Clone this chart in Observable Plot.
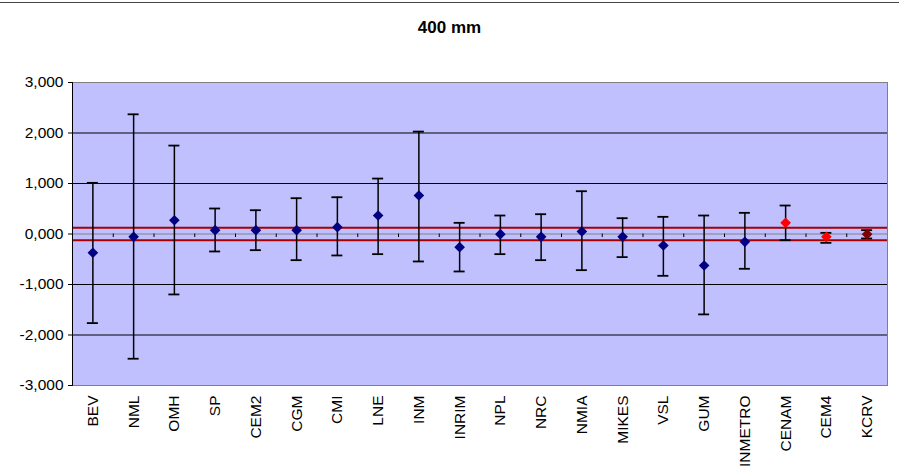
<!DOCTYPE html>
<html><head><meta charset="utf-8">
<script src="https://cdn.jsdelivr.net/npm/d3@7"></script>
<script src="https://cdn.jsdelivr.net/npm/@observablehq/plot@0.6"></script>
<style>
body{margin:0;background:#fff;}
#wrap{position:relative;width:899px;height:475px;font-family:Arial,"Liberation Sans",sans-serif;}
#title{position:absolute;top:18px;left:0;width:899px;text-align:center;font-weight:bold;font-size:17px;line-height:20px;color:#000;}
#topline{position:absolute;top:2px;left:0;width:899px;height:0;border-top:1.5px solid #444;}
#chart{position:absolute;top:0;left:0;}
</style></head><body>
<div id="wrap"><div id="chart"></div><div id="topline"></div><div id="title">400 mm</div></div>
<script>
const labs = ["BEV","NML","OMH","SP","CEM2","CGM","CMI","LNE","INM","INRIM","NPL","NRC","NMIA","MIKES","VSL","GUM","INMETRO","CENAM","CEM4","KCRV"];
const values = [-0.372,-0.056,0.273,0.076,0.076,0.076,0.135,0.366,0.762,-0.260,-0.003,-0.056,0.050,-0.056,-0.227,-0.623,-0.155,0.221,-0.056,-0.003];
const upper  = [1.013,2.370,1.751,0.505,0.471,0.709,0.728,1.098,2.028,0.221,0.366,0.392,0.847,0.313,0.340,0.366,0.419,0.564,0.023,0.076];
const lower  = [-1.764,-2.470,-1.197,-0.346,-0.320,-0.518,-0.425,-0.399,-0.544,-0.742,-0.399,-0.518,-0.716,-0.458,-0.828,-1.592,-0.689,-0.122,-0.175,-0.089];
const groups = ["lab","lab","lab","lab","lab","lab","lab","lab","lab","lab","lab","lab","lab","lab","lab","lab","lab","pilot","pilot","kcrv"];
const refBand = [-0.125, 0.125];
const yTicks = [-3,-2,-1,0,1,2,3];
const gridVals = [-2,-1,1,2];

const data = labs.map((lab,i) => ({lab, v: values[i], hi: upper[i], lo: lower[i], g: groups[i]}));

const W = 899, H = 475, mL = 72, mR = 12, mT = 82, mB = 90;
const bw = (W - mL - mR) / labs.length;
const capInset = (bw - 11) / 2;
const fmt = d3.formatLocale({decimal:",", thousands:".", grouping:[3], currency:["",""], minus:"-"}).format(".3f");
const FS = 15.5;

const chart = Plot.plot({
  width: W, height: H,
  marginLeft: mL, marginRight: mR, marginTop: mT, marginBottom: mB,
  style: {fontFamily: "Arial, 'Liberation Sans', sans-serif", fontSize: FS + "px", color: "#000", background: "transparent"},
  x: {type: "band", domain: labs, padding: 0, round: false},
  y: {domain: [-3, 3]},
  color: {domain: ["lab","pilot","kcrv"], range: ["#000080","#FF0000","#800000"]},
  marks: [
    Plot.frame({fill: "#C0C0FF", stroke: "#808080"}),
    Plot.ruleY(gridVals, {stroke: "#000", strokeWidth: 1}),
    Plot.ruleY([0], {stroke: "#808080", strokeWidth: 1.2}),
    Plot.ruleX(labs.slice(1), {x: d => d, y1: 0, y2: -0.07, dx: -bw/2, stroke: "#000", strokeWidth: 1}),
    Plot.ruleY(refBand, {stroke: "#A80000", strokeWidth: 2}),
    Plot.ruleX(data, {x: "lab", y1: "lo", y2: "hi", stroke: "#000", strokeWidth: 1.5}),
    Plot.tickY(data, {x: "lab", y: "hi", insetLeft: capInset, insetRight: capInset, stroke: "#000", strokeWidth: 1.8}),
    Plot.tickY(data, {x: "lab", y: "lo", insetLeft: capInset, insetRight: capInset, stroke: "#000", strokeWidth: 1.8}),
    Plot.dot(data, {x: "lab", y: "v", symbol: "diamond2", r: 4.8, fill: "g", stroke: null}),
    Plot.frame({anchor: "left", stroke: "#000"}),
    Plot.axisY({ticks: yTicks, tickFormat: fmt, tickSize: 4, tickPadding: 5, stroke: "#000", fontSize: FS}),
    Plot.axisX({tickRotate: -90, tickSize: 0, tickPadding: 10, label: null, fontSize: FS})
  ]
});
document.getElementById("chart").appendChild(chart);
</script>
</body></html>
